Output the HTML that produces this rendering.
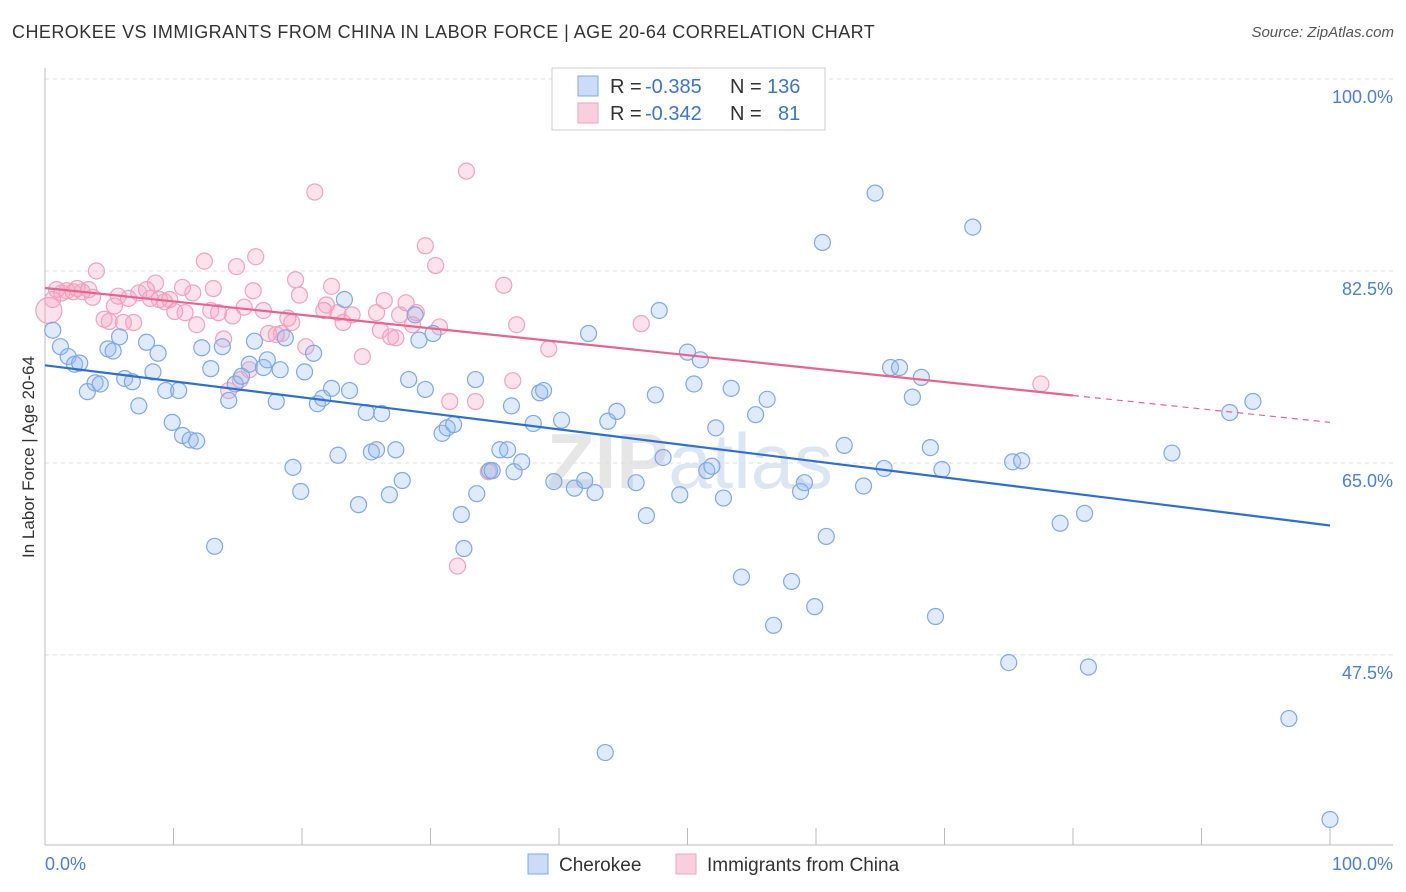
<!DOCTYPE html>
<html><head><meta charset="utf-8">
<style>
body{margin:0;background:#fff;font-family:"Liberation Sans",sans-serif;}
#wrap{position:relative;width:1406px;height:892px;overflow:hidden;}
.t{position:absolute;white-space:nowrap;}
</style></head>
<body>
<div id="wrap">
<div class="t" style="left:12px;top:22px;font-size:18px;letter-spacing:0.45px;color:#333;">CHEROKEE VS IMMIGRANTS FROM CHINA IN LABOR FORCE | AGE 20-64 CORRELATION CHART</div>
<div class="t" style="right:12px;top:24px;font-size:15px;color:#555;font-style:italic;">Source: ZipAtlas.com</div>
<svg id="svg" width="1406" height="892" style="position:absolute;left:0;top:0;"></svg>
</div>
<script>
const blueX=[0.6,1.2,1.8,2.3,2.7,3.3,3.9,4.3,4.9,5.3,5.8,6.2,6.8,7.3,7.9,8.4,8.8,9.4,9.9,10.4,10.7,11.3,11.8,12.2,12.9,13.2,13.8,14.3,14.8,15.3,15.9,16.3,17.0,17.3,18.0,18.3,18.7,19.3,19.9,20.2,20.9,21.2,21.6,22.3,22.8,23.3,23.7,24.4,25.0,25.4,25.8,26.2,26.8,27.3,27.8,28.3,28.8,29.1,29.6,30.2,30.9,31.3,31.8,32.4,32.6,33.5,33.6,34.6,34.8,35.4,36.0,36.3,36.5,37.1,38.0,38.5,38.8,39.6,40.2,41.2,42.0,42.3,42.8,43.8,44.5,44.8,46.0,46.8,47.5,47.8,48.1,49.4,50.0,50.5,51.0,51.5,51.9,52.2,52.8,53.4,54.2,55.3,56.2,56.7,58.1,58.8,59.1,59.9,60.5,60.8,62.2,63.7,64.6,65.3,65.8,66.5,67.5,68.2,68.9,69.3,69.8,72.2,75.0,75.3,76.0,79.0,80.9,81.2,87.7,92.2,94.0,96.8,100,53.5,43.6];
const blueY=[77.1,75.6,74.7,74.0,74.1,71.5,72.3,72.2,75.4,75.2,76.5,72.7,72.4,70.2,76.0,73.3,75.0,71.6,68.7,71.6,67.5,67.1,67.0,75.5,73.6,57.4,75.6,70.7,72.2,72.9,74.0,76.1,73.7,74.4,70.6,73.5,76.4,64.6,62.4,73.3,75.0,70.4,70.9,71.8,65.7,79.9,71.6,61.2,69.6,66.0,66.2,69.5,62.1,66.2,63.4,72.6,78.5,76.2,71.7,76.8,67.7,68.2,68.5,60.3,57.2,72.6,62.2,64.3,64.3,66.2,66.2,70.2,64.2,65.1,68.6,71.4,71.6,63.3,68.9,62.7,63.4,76.8,62.3,68.8,69.7,100,63.2,60.2,71.2,78.9,65.5,62.1,75.1,72.2,74.4,64.3,64.7,68.2,61.8,71.8,54.6,69.4,70.8,50.2,54.2,62.4,63.2,51.9,85.1,58.3,66.6,62.9,89.6,64.5,73.7,73.7,71.0,72.8,66.4,51.0,64.4,86.5,46.8,65.1,65.2,59.5,60.4,46.4,65.9,69.6,70.6,41.7,32.5,100,38.6];
const pinkX=[0.3,0.6,0.9,1.3,1.7,2.2,2.5,2.9,3.4,3.7,4.0,4.6,5.0,5.4,5.7,6.1,6.5,6.9,7.3,7.9,8.2,8.6,8.9,9.3,9.7,10.1,10.7,10.9,11.5,11.8,12.4,12.9,13.1,13.5,13.9,14.3,14.6,14.9,15.2,15.5,15.9,16.2,16.4,17.0,17.4,18.0,18.4,18.9,19.2,19.5,19.8,20.3,21.0,21.7,21.9,22.3,22.8,23.2,23.9,24.7,25.8,26.1,26.4,26.9,27.3,27.6,28.1,28.6,28.9,29.6,30.4,30.7,31.5,32.1,32.8,33.5,34.5,35.7,36.4,36.7,39.2,46.4,77.5];
const pinkY=[78.9,79.9,80.8,80.5,80.7,80.6,80.9,80.6,80.8,80.1,82.5,78.1,77.9,79.3,80.2,77.8,80.0,77.8,80.5,80.8,80.0,81.4,79.9,79.7,79.9,78.8,81.0,78.7,80.5,77.6,83.4,78.9,80.9,78.7,76.3,71.6,78.4,82.9,72.6,79.2,73.5,80.7,83.8,78.9,76.8,76.7,76.8,78.2,77.8,81.7,80.3,75.6,89.7,78.9,79.4,81.1,78.7,77.8,78.5,74.7,78.7,77.1,79.8,76.5,76.4,78.5,79.6,77.6,78.7,84.8,83.0,77.4,70.6,55.6,91.6,70.6,64.2,81.2,72.5,77.6,75.4,77.7,72.2];
const blueTrend=[73.9,59.3];
const pinkTrend=[80.95,68.7];
const yTicks=[100,82.5,65,47.5];
const yTickLabels=["100.0%","82.5%","65.0%","47.5%"];

const NS="http://www.w3.org/2000/svg";
const svg=document.getElementById('svg');
const X=v=>45+v*12.85;
const Y=v=>79+(100-v)*10.97;
function mk(tag,attrs,parent){const e=document.createElementNS(NS,tag);for(const k in attrs)e.setAttribute(k,attrs[k]);(parent||svg).appendChild(e);return e;}

let wm=mk('text',{x:690,y:488,'text-anchor':'middle','font-size':78,'font-family':'Liberation Sans, sans-serif',fill:'#e6e6e6','font-weight':'bold'});


wm.innerHTML='ZIP<tspan font-weight="normal" fill="#dce6f2">atlas</tspan>';

yTicks.forEach((v,i)=>{
  const g=mk('line',{x1:45,x2:1393,y1:Y(v),y2:Y(v),stroke:'#ddd','stroke-dasharray':'4,4'});
  
  
  const t=mk('text',{x:1393,y:Y(v)+24,'text-anchor':'end','font-size':18,fill:'#4a7fd8','font-family':'Liberation Sans, sans-serif'});
  t.textContent=yTickLabels[i];
  
  
});
let ax=mk('line',{x1:45,x2:45,y1:68,y2:845,stroke:'#bbb'});


let bx=mk('line',{x1:45,x2:1393,y1:845,y2:845,stroke:'#bbb'});


for(let i=0;i<=10;i++){
  const tk=mk('line',{x1:X(i*10),x2:X(i*10),y1:828,y2:845,stroke:'#bbb'});
  
  
}
[[0,'start',"0.0%"],[100,'end',"100.0%"]].forEach(a=>{
  const t=mk('text',{x:a[0]==0?45:1393,y:870,'text-anchor':a[1],'font-size':18,fill:'#4a7fd8','font-family':'Liberation Sans, sans-serif'});
  t.textContent=a[2];
  
  
});
let yt=mk('text',{x:34,y:457,transform:'rotate(-90 34 457)','text-anchor':'middle','font-size':17,fill:'#333','font-family':'Liberation Sans, sans-serif'});
yt.textContent='In Labor Force | Age 20-64';



pinkX.forEach((x,i)=>{
  const c=mk('circle',{cx:X(x),cy:Y(pinkY[i]),r:i==0?13:8,fill:'rgba(244,160,188,0.3)',stroke:'#f2a2bc','stroke-width':1.2});
  
  
});
blueX.forEach((x,i)=>{
  const c=mk('circle',{cx:X(x),cy:Y(blueY[i]),r:8,fill:'rgba(150,185,240,0.3)',stroke:'#7ea8e8','stroke-width':1.2});
  
  
});
const bl=mk('line',{x1:X(0),y1:Y(blueTrend[0]),x2:X(100),y2:Y(blueTrend[1]),stroke:'#2c6fd6','stroke-width':2.2});


const pAt=x=>pinkTrend[0]+(pinkTrend[1]-pinkTrend[0])*x/100;
const pl=mk('line',{x1:X(0),y1:Y(pAt(0)),x2:X(80),y2:Y(pAt(80)),stroke:'#e8648e','stroke-width':2.2});


const pd=mk('line',{x1:X(80),y1:Y(pAt(80)),x2:X(100),y2:Y(pAt(100)),stroke:'#e8648e','stroke-width':1.2,'stroke-dasharray':'6,5'});



const lg=mk('g',{});


mk('rect',{x:552,y:68,width:273,height:62,fill:'#fff',stroke:'#ccc'},lg);
mk('rect',{x:578,y:76,width:20,height:20,fill:'rgba(150,185,240,0.5)',stroke:'#7ea8e8'},lg);
mk('rect',{x:578,y:103,width:20,height:20,fill:'rgba(244,160,188,0.5)',stroke:'#f2a2bc'},lg);
const lt=(x,y,s,c)=>{const t=mk('text',{x:x,y:y,'font-size':20,fill:c,'font-family':'Liberation Sans, sans-serif'},lg);t.textContent=s;};
lt(610,93,'R =','#333');lt(645,93,'-0.385','#3a74d6');lt(730,93,'N =','#333');lt(767,93,'136','#3a74d6');
lt(610,120,'R =','#333');lt(645,120,'-0.342','#3a74d6');lt(730,120,'N =','#333');lt(778,120,'81','#3a74d6');

const b1=mk('rect',{x:528,y:854,width:20,height:20,fill:'rgba(150,185,240,0.5)',stroke:'#7ea8e8'});


const t1=mk('text',{x:559,y:871,'font-size':19,fill:'#333','font-family':'Liberation Sans, sans-serif'});
t1.textContent='Cherokee';


const b2=mk('rect',{x:676,y:854,width:20,height:20,fill:'rgba(244,160,188,0.5)',stroke:'#f2a2bc'});


const t2=mk('text',{x:707,y:871,'font-size':19,fill:'#333','font-family':'Liberation Sans, sans-serif'});
t2.textContent='Immigrants from China';


</script>
</body></html>
